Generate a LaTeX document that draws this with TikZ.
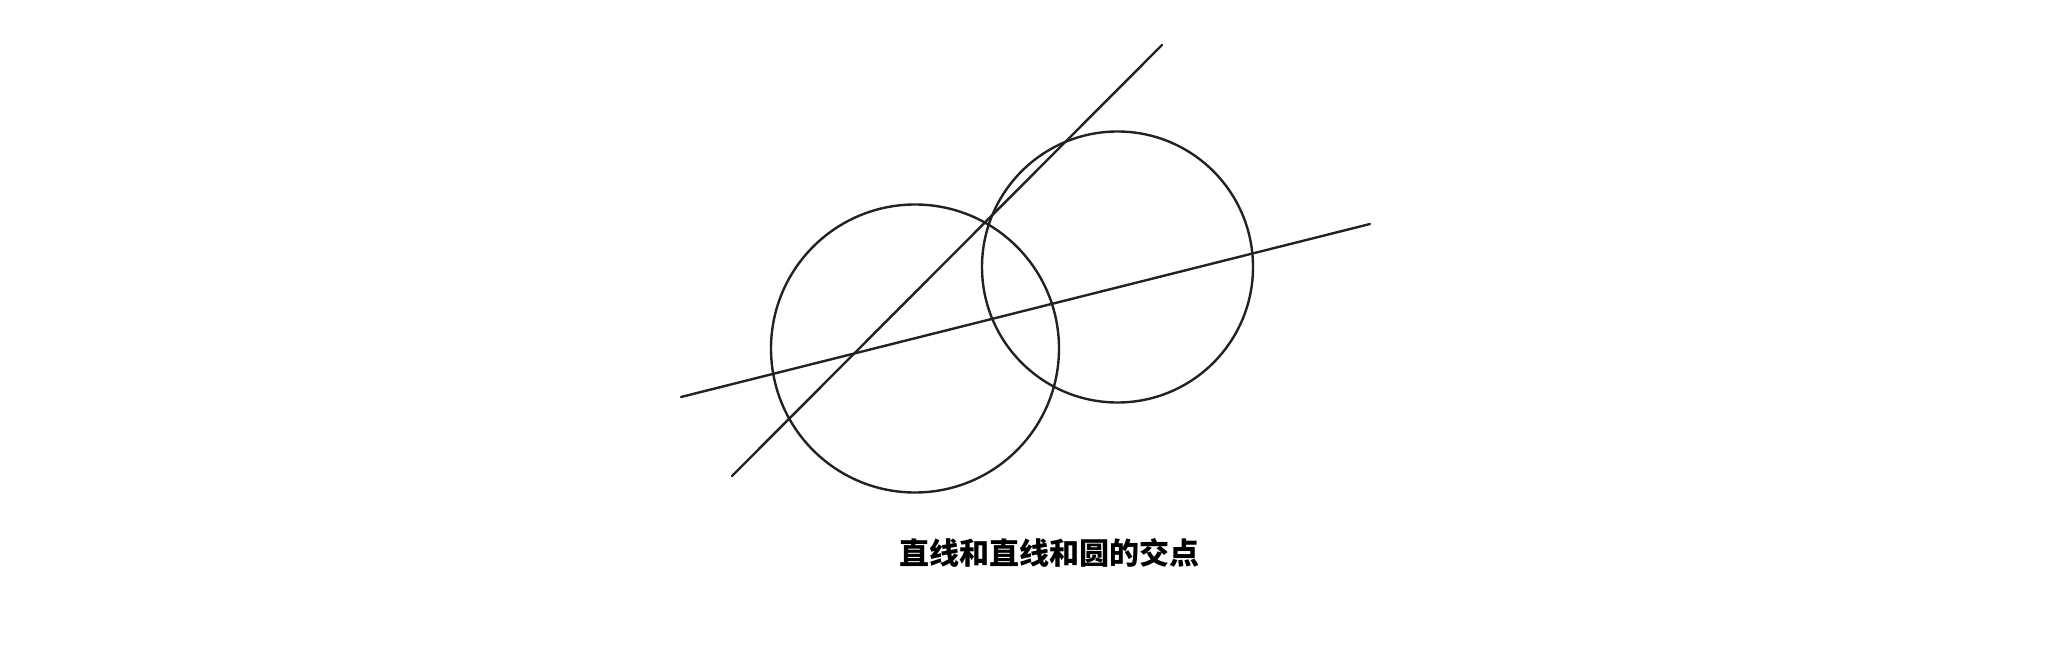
\documentclass[tikz,border=0pt]{standalone}
\usepackage{fontspec}
\newfontfamily\cjk{Noto Sans CJK SC}
\definecolor{ink}{HTML}{222222}
\begin{document}
\begin{tikzpicture}[x=1pt,y=-1pt,
  geo/.style={draw=ink,line width=2.4pt,line cap=round},
  caption/.style={font=\cjk\bfseries\fontsize{30}{35}\selectfont,text=black,inner sep=0pt}]
\useasboundingbox (0,0) rectangle (2046,668);
\coordinate (l1a) at (681,397);
\coordinate (l1b) at (1370,224);
\coordinate (l2a) at (732,476);
\coordinate (l2b) at (1162,45);
\draw[geo] (915,348.5) circle[radius=144];
\draw[geo] (1117.5,267) circle[radius=135.5];
\draw[geo] (l1a) -- (l1b);
\draw[geo] (l2a) -- (l2b);
\node[caption] (cap) at (1049,553) {直线和直线和圆的交点};
\end{tikzpicture}
\end{document}
